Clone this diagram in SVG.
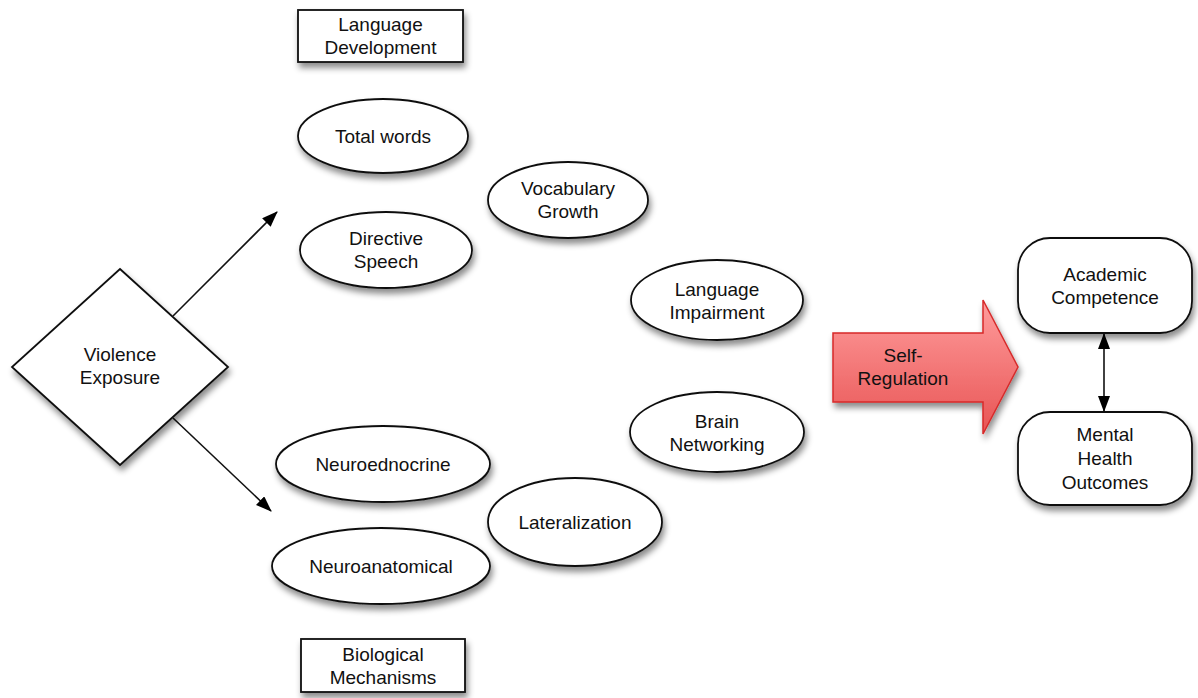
<svg xmlns="http://www.w3.org/2000/svg" width="1198" height="698" viewBox="0 0 1198 698">
<defs>
<filter id="sh" x="-20%" y="-20%" width="140%" height="150%">
<feDropShadow dx="2" dy="5" stdDeviation="3" flood-color="#000" flood-opacity="0.45"/>
</filter>
<linearGradient id="red" x1="0" y1="0" x2="0" y2="1">
<stop offset="0" stop-color="#ff9c9c"/>
<stop offset="1" stop-color="#e85454"/>
</linearGradient>
<marker id="ah2" viewBox="0 0 16 12" refX="15" refY="6" markerWidth="16" markerHeight="12" markerUnits="userSpaceOnUse" orient="auto-start-reverse">
<path d="M0,0 L16,6 L0,12 z" fill="#000"/>
</marker>
</defs>
<style>
.s{fill:#fff;stroke:#111;stroke-width:1.8;filter:url(#sh)}
text{font-family:"Liberation Sans",Arial,sans-serif;font-size:19px;fill:#111;text-anchor:middle}
.c{stroke:#111;stroke-width:1.6;fill:none}
</style>
<rect width="1198" height="698" fill="#fff"/>
<g id="connectors">
<line class="c" x1="173" y1="316" x2="277" y2="212" marker-end="url(#ah2)"/>
<line class="c" x1="173" y1="418" x2="271" y2="511" marker-end="url(#ah2)"/>
<line class="c" x1="1104" y1="334" x2="1104" y2="411" stroke-width="2" marker-start="url(#ah2)" marker-end="url(#ah2)"/>
</g>
<g id="violence">
<polygon class="s" points="120,269 228,367 120,465 12,367"/>
<text x="120" y="361">Violence</text>
<text x="120" y="384">Exposure</text>
</g>
<g id="langdev">
<rect class="s" x="298" y="10" width="165" height="52"/>
<text x="380.5" y="31">Language</text>
<text x="380.5" y="54">Development</text>
</g>
<g id="biomech">
<rect class="s" x="301" y="639" width="164" height="53"/>
<text x="383" y="661">Biological</text>
<text x="383" y="684">Mechanisms</text>
</g>
<g id="totalwords">
<ellipse class="s" cx="383" cy="136" rx="85" ry="37"/>
<text x="383" y="143">Total words</text>
</g>
<g id="directive">
<ellipse class="s" cx="386" cy="250" rx="86" ry="38"/>
<text x="386" y="245">Directive</text>
<text x="386" y="268">Speech</text>
</g>
<g id="vocab">
<ellipse class="s" cx="568" cy="200" rx="80" ry="38"/>
<text x="568" y="195">Vocabulary</text>
<text x="568" y="218">Growth</text>
</g>
<g id="impair">
<ellipse class="s" cx="717" cy="300" rx="86" ry="40"/>
<text x="717" y="296">Language</text>
<text x="717" y="319">Impairment</text>
</g>
<g id="brain">
<ellipse class="s" cx="717" cy="432" rx="87" ry="40"/>
<text x="717" y="428">Brain</text>
<text x="717" y="451">Networking</text>
</g>
<g id="neuroendo">
<ellipse class="s" cx="383" cy="464" rx="107" ry="38"/>
<text x="383" y="471">Neuroednocrine</text>
</g>
<g id="lateral">
<ellipse class="s" cx="575" cy="522" rx="87" ry="44"/>
<text x="575" y="529">Lateralization</text>
</g>
<g id="neuroanat">
<ellipse class="s" cx="381" cy="566" rx="109" ry="38"/>
<text x="381" y="573">Neuroanatomical</text>
</g>
<g id="selfreg">
<polygon points="833,333 983,333 983,300 1018,367 983,434 983,402 833,402" fill="url(#red)" stroke="#d62a2a" stroke-width="1.5" filter="url(#sh)"/>
<text x="903" y="362">Self-</text>
<text x="903" y="385">Regulation</text>
</g>
<g id="academic">
<rect class="s" x="1018" y="238" width="174" height="95" rx="32" ry="32"/>
<text x="1105" y="281">Academic</text>
<text x="1105" y="304">Competence</text>
</g>
<g id="mental">
<rect class="s" x="1018" y="412" width="174" height="93" rx="32" ry="32"/>
<text x="1105" y="441">Mental</text>
<text x="1105" y="465">Health</text>
<text x="1105" y="489">Outcomes</text>
</g>
</svg>
